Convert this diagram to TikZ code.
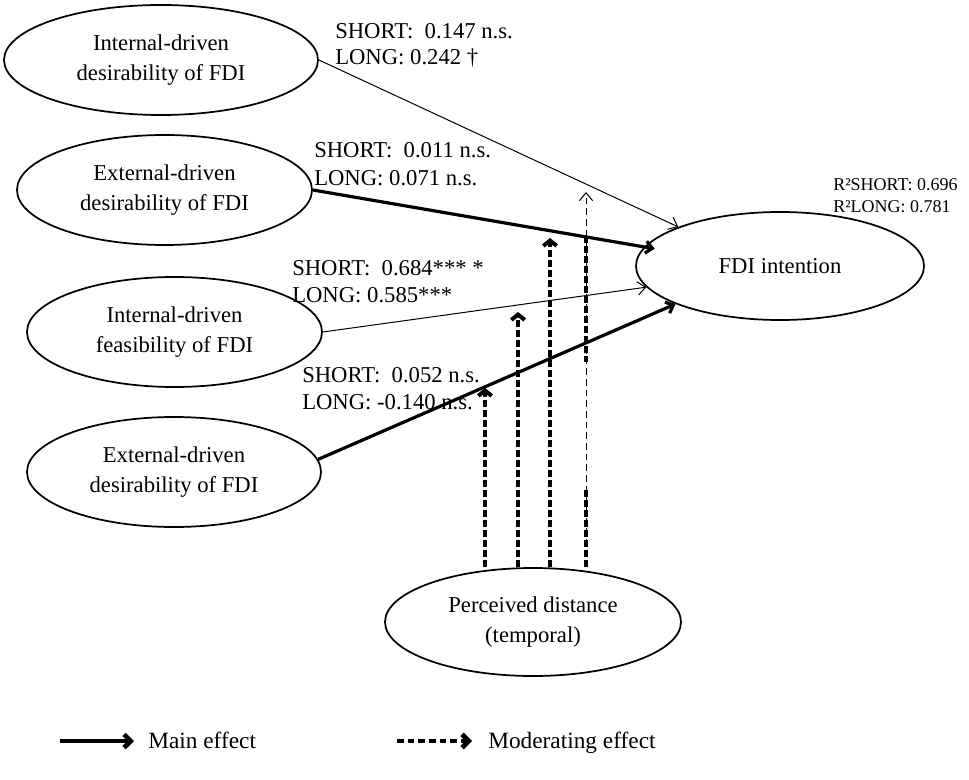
\documentclass[tikz,border=0pt]{standalone}
\usepackage{fontspec}
\setmainfont{Liberation Serif}
\usetikzlibrary{arrows.meta,shapes.geometric}
\newdimen\pxu \pxu=0.75pt
\begin{document}
\begin{tikzpicture}[x=0.75pt,y=-0.75pt,
  construct/.style={ellipse, draw, line width=1.3pt, inner sep=0pt,
    minimum height=110\pxu, align=center,
    font=\fontsize{17}{22}\selectfont},
  lab/.style={inner sep=0pt, anchor=west, font=\fontsize{17}{20}\selectfont},
  rsq/.style={inner sep=0pt, anchor=west, font=\fontsize{13.5}{16}\selectfont},
  legtext/.style={inner sep=0pt, anchor=base west, font=\fontsize{17.5}{20}\selectfont},
  thinarrow/.style={line width=0.75pt, -{Straight Barb[length=6pt,width=10pt]}},
  thickarrow/.style={line width=2.4pt, -{Straight Barb[length=5pt,width=9pt]}},
  modarrow/.style={line width=3pt, dash pattern=on 5pt off 2.5pt,
    -{Straight Barb[length=4pt,width=10pt]}},
  modthin/.style={line width=0.75pt, dash pattern=on 5pt off 3pt,
    -{Straight Barb[length=6pt,width=10pt]}},
  modseg/.style={line width=3pt, dash pattern=on 5pt off 2.5pt},
  legmain/.style={line width=3.5pt, -{Straight Barb[length=5pt,width=10pt]}},
  legmod/.style={line width=3.5pt, dash pattern=on 5pt off 3pt,
    -{Straight Barb[length=5pt,width=10pt]}}]
\useasboundingbox (0,0) rectangle (969,780);

% constructs
\node[construct, minimum width=314\pxu] (idd) at (161,60) {Internal-driven\\desirability of FDI};
\node[construct, minimum width=295\pxu] (edd) at (164.5,190) {External-driven\\desirability of FDI};
\node[construct, minimum width=295\pxu] (idf) at (174.5,332) {Internal-driven\\feasibility of FDI};
\node[construct, minimum width=294\pxu] (edf) at (174,472) {External-driven\\desirability of FDI};
\node[construct, minimum width=288\pxu, minimum height=108\pxu] (fdi) at (780,266) {FDI intention};
\node[construct, minimum width=296\pxu, minimum height=108\pxu] (pd) at (533,622) {Perceived distance\\(temporal)};

% path coefficients
\node[lab] (c1s) at (335,31) {SHORT:\ \ 0.147 n.s.};
\node[lab] (c1l) at (335,58) {LONG:\ 0.242 †};
\node[lab] (c2s) at (314,150) {SHORT:\ \ 0.011 n.s.};
\node[lab] (c2l) at (314,178) {LONG:\ 0.071 n.s.};
\node[lab] (c3s) at (292,268) {SHORT:\ \ 0.684*** *};
\node[lab] (c3l) at (292,295) {LONG:\ 0.585***};
\node[lab] (c4s) at (302,375) {SHORT:\ \ 0.052 n.s.};
\node[lab] (c4l) at (302,402) {LONG:\ -0.140 n.s.};
\node[rsq] (r2s) at (833,185) {R²SHORT: 0.696};
\node[rsq] (r2l) at (833,207) {R²LONG:\ 0.781};

% main effects
\draw[thinarrow] (idd.east) -- (fdi.159);
\draw[thickarrow, shorten >=-8pt] (edd.east) -- (fdi.172);
\draw[thinarrow] (idf.east) -- (fdi.189);
\draw[thickarrow] (edf.5) -- (fdi.200);

% moderating effects
\coordinate (m1) at (485,388);
\coordinate (m2) at (518,312);
\coordinate (m3) at (550,238);
\coordinate (m4) at (586,192);
\coordinate (m4a) at (586,236);
\coordinate (m4b) at (586,362);
\coordinate (m4c) at (586,488);
\draw[modarrow] (pd.north -| m1) -- (m1);
\draw[modarrow] (pd.north -| m2) -- (m2);
\draw[modarrow] (pd.north -| m3) -- (m3);
\draw[modthin] (pd.north -| m4) -- (m4);
\draw[modseg] (m4a) -- (m4b);
\draw[modseg] (pd.north -| m4c) -- (m4c);

% legend
\coordinate (lga) at (60,741);
\coordinate (lgb) at (134,741);
\coordinate (lgc) at (397,741);
\coordinate (lgd) at (472,741);
\draw[legmain] (lga) -- (lgb);
\node[legtext] (lgt1) at (148,748) {Main effect};
\draw[legmod] (lgc) -- (lgd);
\node[legtext] (lgt2) at (488,748) {Moderating effect};
\end{tikzpicture}
\end{document}
